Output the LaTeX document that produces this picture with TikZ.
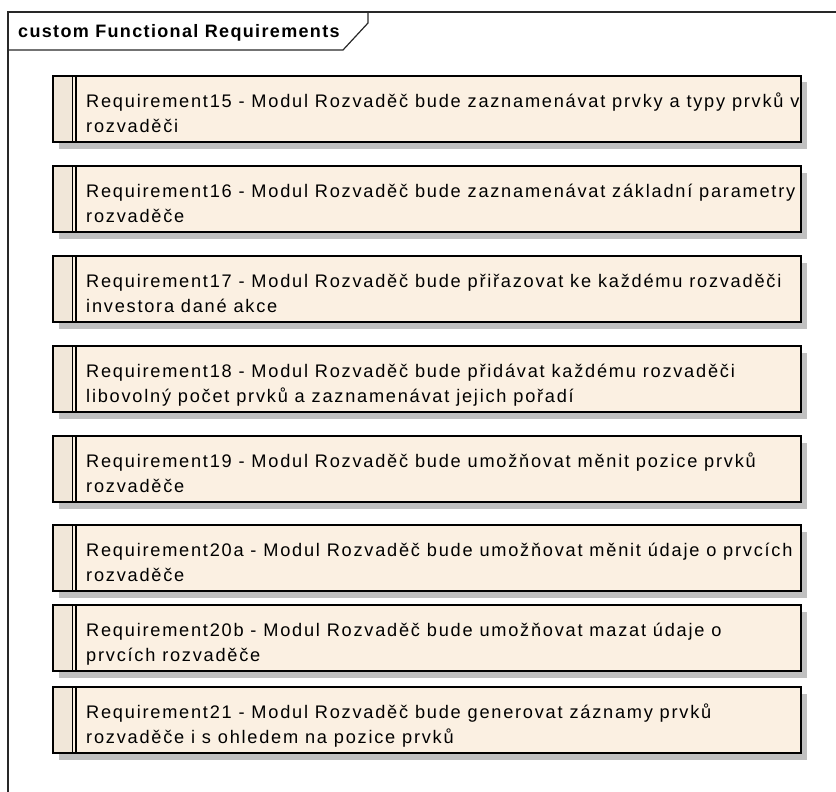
\documentclass[tikz,border=0pt]{standalone}
\usepackage{fontspec}
\setmainfont{Liberation Sans}
\newfontfamily\reqfont[LetterSpace=9.7]{Liberation Sans}
\newfontfamily\hdrfont[LetterSpace=7.5]{Liberation Sans}
\usetikzlibrary{shadows}
\definecolor{reqfill}{RGB}{251,240,226}
\definecolor{reqstrip}{RGB}{241,231,217}
\definecolor{reqshadow}{RGB}{192,192,192}
\definecolor{frameline}{RGB}{40,40,40}
\begin{document}
\begin{tikzpicture}[x=1pt,y=-1pt,
  frame/.style={draw=frameline, line width=1.2pt},
  reqbox/.style={draw=black, line width=1.8pt, fill=reqfill,
    minimum width=748pt, minimum height=66pt, anchor=north west,
    inner sep=0pt, outer sep=0pt,
    general shadow={fill=reqshadow, shadow xshift=6pt, shadow yshift=-6.5pt},
    path picture={
      \fill[reqstrip] (path picture bounding box.north west)
        rectangle ([xshift=19.5pt]path picture bounding box.south west);
      \draw[line width=1.3pt] ([xshift=19.5pt]path picture bounding box.north west)
        -- ([xshift=19.5pt]path picture bounding box.south west);
      \draw[line width=1.3pt] ([xshift=23pt]path picture bounding box.north west)
        -- ([xshift=23pt]path picture bounding box.south west);
    }},
  % base anchor of a two-line node sits on the baseline of its last line
  reqtext/.style={anchor=base west, inner sep=0pt, align=left,
    font=\reqfont\fontsize{18.2}{25.5}\selectfont},
  hdrtext/.style={anchor=base west, inner sep=0pt,
    font=\hdrfont\bfseries\fontsize{18}{22}\selectfont}
]
\useasboundingbox (0,0) rectangle (836,792);

% diagram frame with its name tab
\draw[frame] (836,12) -- (8,12) -- (8,792);
\draw[frame] (8,50) -- (343,50) -- (368,23) -- (368,12);
\node[hdrtext] (title) at (18,37.5) {custom Functional Requirements};

% requirement elements
\node[reqbox] (r15) at (53,76) {};
\node[reqtext] (t15) at ([shift={(33,56.5)}]r15.north west)
  {Requirement15 - Modul Rozvaděč bude zaznamenávat prvky a typy prvků v\\rozvaděči};

\node[reqbox] (r16) at (53,166) {};
\node[reqtext] (t16) at ([shift={(33,56.5)}]r16.north west)
  {Requirement16 - Modul Rozvaděč bude zaznamenávat základní parametry\\rozvaděče};

\node[reqbox] (r17) at (53,256) {};
\node[reqtext] (t17) at ([shift={(33,56.5)}]r17.north west)
  {Requirement17 - Modul Rozvaděč bude přiřazovat ke každému rozvaděči\\investora dané akce};

\node[reqbox] (r18) at (53,346) {};
\node[reqtext] (t18) at ([shift={(33,56.5)}]r18.north west)
  {Requirement18 - Modul Rozvaděč bude přidávat každému rozvaděči\\libovolný počet prvků a zaznamenávat jejich pořadí};

\node[reqbox] (r19) at (53,436) {};
\node[reqtext] (t19) at ([shift={(33,56.5)}]r19.north west)
  {Requirement19 - Modul Rozvaděč bude umožňovat měnit pozice prvků\\rozvaděče};

\node[reqbox] (r20a) at (53,525) {};
\node[reqtext] (t20a) at ([shift={(33,56.5)}]r20a.north west)
  {Requirement20a - Modul Rozvaděč bude umožňovat měnit údaje o prvcích\\rozvaděče};

\node[reqbox] (r20b) at (53,605) {};
\node[reqtext] (t20b) at ([shift={(33,56.5)}]r20b.north west)
  {Requirement20b - Modul Rozvaděč bude umožňovat mazat údaje o\\prvcích rozvaděče};

\node[reqbox] (r21) at (53,687) {};
\node[reqtext] (t21) at ([shift={(33,56.5)}]r21.north west)
  {Requirement21 - Modul Rozvaděč bude generovat záznamy prvků\\rozvaděče i s ohledem na pozice prvků};
\end{tikzpicture}
\end{document}
